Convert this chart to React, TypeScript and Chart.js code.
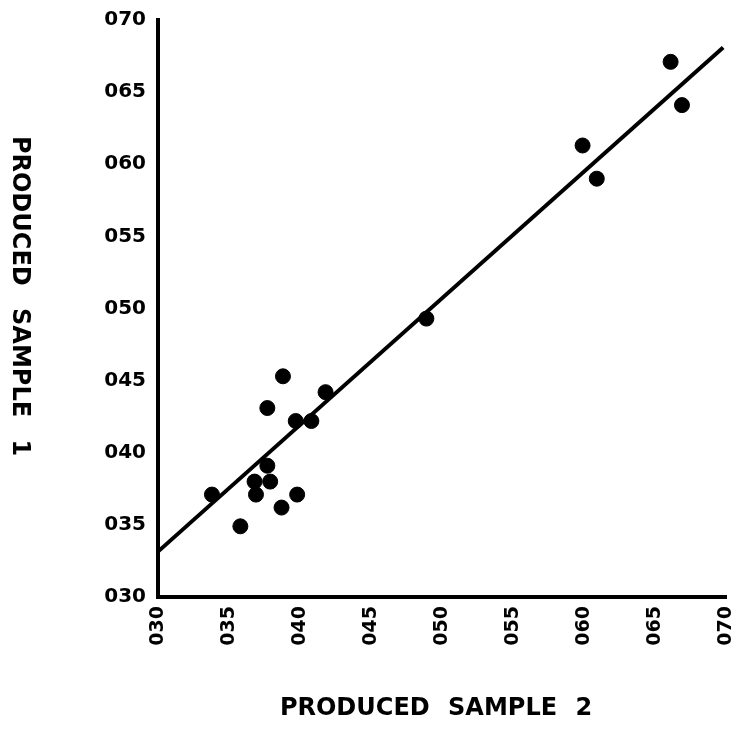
import React, { useEffect, useRef } from "react";
import { Chart, registerables } from "chart.js";

Chart.register(...registerables);

// PRODUCED SAMPLE 2 (x) and PRODUCED SAMPLE 1 (y)
const sample2 = [33.8, 35.8, 36.8, 36.9, 37.7, 37.9, 37.7, 38.8, 38.7, 39.7, 39.8, 40.8, 41.8, 48.9, 59.9, 60.9, 66.1, 66.9];
const sample1 = [37.1, 34.9, 38.0, 37.1, 39.1, 38.0, 43.1, 45.3, 36.2, 42.2, 37.1, 42.2, 44.2, 49.3, 61.3, 59.0, 67.1, 64.1];

// fitted line end points
const fitX = [30, 69.8];
const fitY = [33.15, 68.1];

const axisMin = 30;
const axisMax = 70;
const axisStep = 5;

const xTitle = "PRODUCED SAMPLE 2";
const yTitle = "PRODUCED SAMPLE 1";

const fmt = (v: number | string) => String(Math.round(Number(v))).padStart(3, "0");

const titlePlugin = {
  id: "customTitles",
  afterDraw(chart: any) {
    const ctx = chart.ctx as CanvasRenderingContext2D;
    ctx.save();
    ctx.fillStyle = "#000";
    ctx.font = 'bold 24px "DejaVu Sans"';
    ctx.textAlign = "center";
    ctx.textBaseline = "middle";
    (ctx as any).wordSpacing = "10px";
    ctx.fillText(xTitle, 436, 709);
    ctx.translate(19, 296);
    ctx.rotate(Math.PI / 2);
    (ctx as any).wordSpacing = "14px";
    ctx.fillText(yTitle, 0, 0);
    ctx.restore();
  },
};

export default function App() {
  const ref = useRef<HTMLCanvasElement | null>(null);

  useEffect(() => {
    if (!ref.current) return;
    const points = sample2.map((x, i) => ({ x, y: sample1[i] }));
    const fit = fitX.map((x, i) => ({ x, y: fitY[i] }));
    const chart = new Chart(ref.current, {
      type: "scatter",
      data: {
        datasets: [
          {
            type: "line",
            data: fit,
            borderColor: "#000",
            borderWidth: 4,
            pointRadius: 0,
            fill: false,
          } as any,
          {
            type: "scatter",
            data: points,
            backgroundColor: "#000",
            borderColor: "#000",
            pointRadius: 7.5,
            pointHoverRadius: 7.5,
          },
        ],
      },
      options: {
        animation: false,
        responsive: false,
        events: [],
        layout: { padding: { left: 50, right: 13, top: 20, bottom: 85 } },
        plugins: {
          legend: { display: false },
          tooltip: { enabled: false },
        },
        scales: {
          x: {
            type: "linear",
            min: axisMin,
            max: axisMax,
            grid: { display: false, drawTicks: false },
            border: { display: true, color: "#000", width: 4 },
            ticks: {
              stepSize: axisStep,
              minRotation: 90,
              maxRotation: 90,
              padding: 9,
              color: "#000",
              font: { family: "DejaVu Sans", weight: "bold", size: 19 },
              callback: (v: any) => fmt(v),
            },
            afterFit: (scale: any) => {
              scale.height = 60;
              scale.paddingLeft = 0;
              scale.paddingRight = 0;
            },
          },
          y: {
            type: "linear",
            min: axisMin,
            max: axisMax,
            grid: { display: false, drawTicks: false },
            border: { display: true, color: "#000", width: 4 },
            ticks: {
              stepSize: axisStep,
              padding: 12,
              color: "#000",
              font: { family: "DejaVu Sans", weight: "bold", size: 20 },
              callback: (v: any) => fmt(v),
            },
            afterFit: (scale: any) => {
              scale.width = 108;
              scale.paddingTop = 0;
              scale.paddingBottom = 0;
            },
          },
        },
      },
      plugins: [titlePlugin],
    });
    return () => chart.destroy();
  }, []);

  return (
    <div style={{ position: "absolute", left: 0, top: 0, width: 739, height: 742, background: "#fff" }}>
      <canvas ref={ref} width={739} height={742} style={{ display: "block" }} />
    </div>
  );
}
